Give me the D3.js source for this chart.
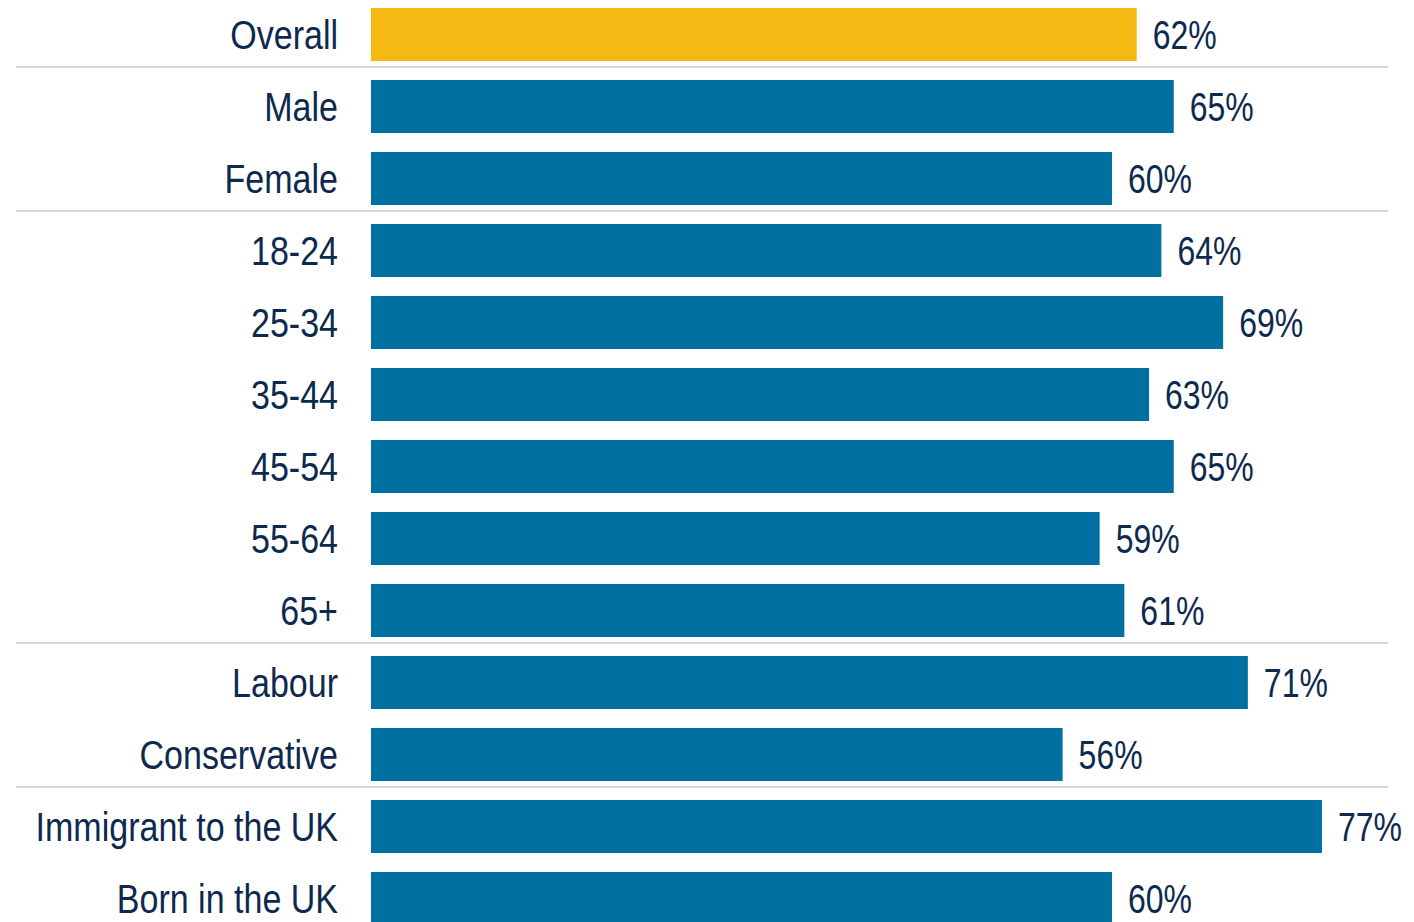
<!DOCTYPE html>
<html>
<head>
  <meta charset="utf-8">
  <title>Bar chart</title>
  <style>
    body { margin: 0; background: #fff; }
    text { font-family: "Liberation Sans", Arial, "Roboto", sans-serif; fill: #0d2a4e; }
  </style>
</head>
<body>
  <svg id="chart"></svg>

  <script src="https://d3js.org/d3.v7.min.js"></script>
  <script>
    // categories and values
    const categories = ["Overall", "Male", "Female", "18-24", "25-34", "35-44", "45-54", "55-64", "65+",
      "Labour", "Conservative", "Immigrant to the UK", "Born in the UK"];
    const values = [62, 65, 60, 64, 69, 63, 65, 59, 61, 71, 56, 77, 60];
    // rows after which a divider line is drawn
    const groupEnds = ["Overall", "Female", "65+", "Conservative"];

    const width = 1414, height = 922;
    const svg = d3.select("#chart").attr("width", width).attr("height", height);

    const data = categories.map((c, i) => ({ cat: c, val: values[i] }));

    const y = d3.scaleBand()
      .domain(categories)
      .range([-1.5, -1.5 + categories.length * 72])
      .paddingInner(0.264)
      .paddingOuter(0.132);

    const x = d3.scaleLinear().domain([0, 100]).range([371, 371 + 1235]);

    // no condensed font available, so squeeze the text horizontally
    const squeeze = 0.83;

    // dividers
    svg.selectAll(".sep")
      .data(groupEnds)
      .enter()
      .append("line")
      .attr("x1", 16)
      .attr("x2", 1388)
      .attr("y1", d => y(d) + y.bandwidth() + 6)
      .attr("y2", d => y(d) + y.bandwidth() + 6)
      .attr("stroke", "#c8c8c8")
      .attr("stroke-width", 1.5);

    svg.selectAll(".bar")
      .data(data)
      .enter()
      .append("rect")
      .attr("x", x(0))
      .attr("y", d => y(d.cat))
      .attr("width", d => x(d.val) - x(0))
      .attr("height", y.bandwidth())
      .attr("fill", (d, i) => i === 0 ? "#f5b914" : "#0070a0");

    svg.selectAll(".lab")
      .data(data)
      .enter()
      .append("text")
      .attr("transform", d => `translate(338,${y(d.cat) + y.bandwidth() / 2}) scale(${squeeze},1)`)
      .attr("dy", "0.35em")
      .attr("text-anchor", "end")
      .style("font-size", "41px")
      .text(d => d.cat);

    svg.selectAll(".val")
      .data(data)
      .enter()
      .append("text")
      .attr("transform", d => `translate(${x(d.val) + 16},${y(d.cat) + y.bandwidth() / 2}) scale(0.78,1)`)
      .attr("dy", "0.35em")
      .style("font-size", "41px")
      .text(d => d.val + "%");
  </script>
</body>
</html>
